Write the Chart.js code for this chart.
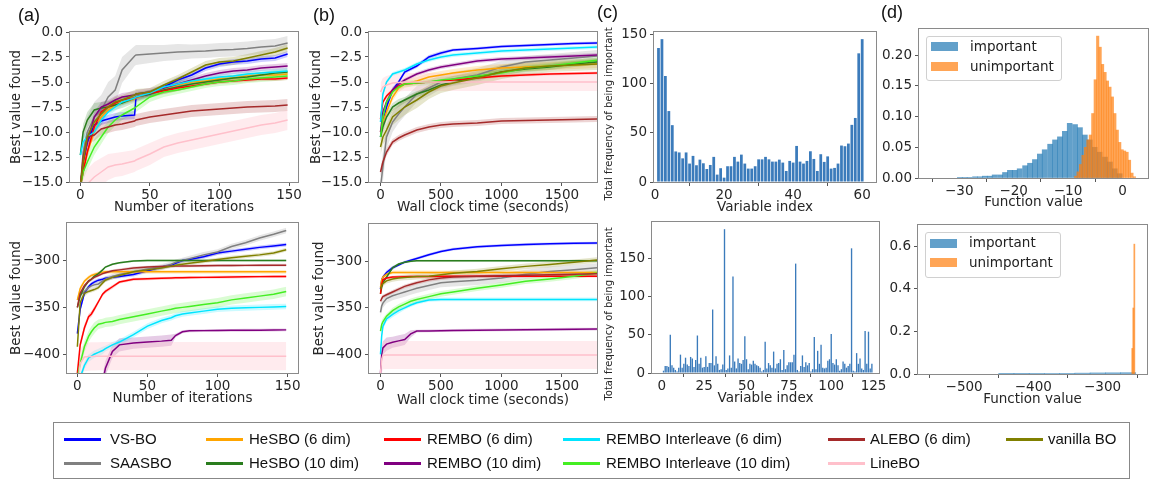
<!DOCTYPE html>
<html><head><meta charset="utf-8">
<script src="https://cdn.jsdelivr.net/npm/chart.js@4.4.1/dist/chart.umd.min.js"></script>
<style>
body{margin:0;width:1151px;height:480px;position:relative;background:#fff;overflow:hidden}
canvas{position:absolute;left:0;top:0}
.plab{position:absolute;font-family:'Liberation Sans',sans-serif;font-size:18px;line-height:20px;color:#111}
.lg{position:absolute;font-family:'Liberation Sans',sans-serif;font-size:15px;line-height:18px;color:#111;white-space:nowrap}
.ll{position:absolute;height:3px}
.hl{position:absolute;font-family:'DejaVu Sans',sans-serif;font-size:13.5px;line-height:16px;color:#222;white-space:nowrap}
.hp{position:absolute;width:27px;height:9px}
.hbox{position:absolute;border:1px solid #d0d0d0;border-radius:3px;background:rgba(255,255,255,0.85)}
.vlab{position:absolute;font-family:'DejaVu Sans',sans-serif;font-size:10px;line-height:12px;color:#262626;white-space:nowrap;transform:translate(-50%,-50%) rotate(-90deg)}
#legend{position:absolute;left:53px;top:422px;width:1075px;height:55px;border:1px solid #888}
</style></head><body>
<canvas id="c1" width="1151" height="480"></canvas>
<canvas id="c2" width="1151" height="480"></canvas>
<canvas id="c3" width="1151" height="480"></canvas>
<canvas id="c4" width="1151" height="480"></canvas>
<canvas id="c5" width="1151" height="480"></canvas>
<canvas id="c6" width="1151" height="480"></canvas>
<canvas id="c7" width="1151" height="480"></canvas>
<canvas id="c8" width="1151" height="480"></canvas>
<div id="legend"></div>
<script>
// ---------------- series names / colours ----------------
const seriesNames = ['VS-BO','SAASBO','HeSBO (6 dim)','HeSBO (10 dim)','REMBO (6 dim)','REMBO (10 dim)','REMBO Interleave (6 dim)','REMBO Interleave (10 dim)','ALEBO (6 dim)','LineBO','vanilla BO'];
const seriesColors = ['#0000ff','#808080','#ffa500','#2a7d1e','#ff0000','#800080','#00e5ff','#44ee22','#a52a2a','#ffc0cb','#808000'];

// ---------------- (a) top: iterations ----------------
const aT_x = [0,2,5,10,15,20,25,30,39,40,50,60,70,80,90,100,110,120,130,140,149];
const aT_vsbo    = [-15.5,-13,-11,-9.3,-8.9,-8.7,-8.5,-8.4,-8.3,-6.5,-6.2,-5.5,-4.8,-4.3,-3.6,-3.2,-3.0,-2.9,-2.7,-2.6,-2.2];
const aT_saasbo  = [-15.5,-12,-10,-8.5,-7.8,-6.5,-5.8,-3.8,-2.4,-2.3,-2.2,-2.1,-2.0,-1.95,-1.9,-1.8,-1.75,-1.65,-1.5,-1.4,-1.1];
const aT_hesbo6  = [-15.5,-13.5,-12,-10,-8.5,-7.8,-7.3,-7.0,-6.7,-6.6,-6.1,-5.6,-5.3,-5.0,-4.9,-4.7,-4.6,-4.4,-4.3,-4.3,-4.2];
const aT_hesbo10 = [-12.3,-10,-8.8,-7.8,-7.6,-7.5,-7.3,-7.1,-6.6,-6.5,-6.2,-5.8,-5.5,-5.2,-5.0,-4.8,-4.6,-4.5,-4.3,-4.1,-4.0];
const aT_rembo6  = [-15.5,-14,-12,-9.5,-8,-7.5,-7.1,-6.8,-6.6,-6.5,-6.1,-5.9,-5.6,-5.4,-5.2,-5.0,-4.9,-4.8,-4.7,-4.7,-4.6];
const aT_rembo10 = [-15.5,-13,-11,-8.5,-7.5,-7.2,-6.8,-6.5,-6.3,-6.2,-6.0,-5.6,-5.2,-4.8,-4.4,-4.1,-3.9,-3.8,-3.6,-3.5,-3.4];
const aT_ri6     = [-12.3,-11,-10.5,-10,-8.8,-8,-7.5,-7,-6.6,-6.5,-6.1,-5.5,-5.2,-4.9,-4.7,-4.5,-4.4,-4.2,-4.1,-4.0,-3.9];
const aT_ri10    = [-15.5,-14,-13,-11.5,-10.5,-9.5,-8.8,-8.3,-7.6,-7.5,-6.5,-6.0,-5.8,-5.5,-5.2,-5.0,-4.9,-4.7,-4.6,-4.5,-4.4];
const aT_alebo   = [-15.5,-12.5,-10.5,-10.3,-9.7,-9.5,-9.3,-9.2,-8.9,-8.8,-8.5,-8.3,-8.1,-7.9,-7.8,-7.7,-7.6,-7.5,-7.45,-7.4,-7.3];
const aT_linebo  = [-16,-15.5,-15.2,-14.5,-14,-13.5,-13.3,-13.2,-12.9,-12.8,-12.2,-11.5,-11.1,-10.8,-10.5,-10.2,-9.9,-9.6,-9.3,-9.1,-8.8];
const aT_vanilla = [-15.5,-13,-10.5,-9,-8.2,-7.5,-7,-6.8,-6.3,-6.2,-6.0,-5.3,-4.7,-4.0,-3.3,-3.0,-2.9,-2.6,-2.3,-2.0,-1.6];
const aT_vsbo_e    = [0.3,0.5,0.5,0.5,0.4,0.4,0.4,0.4,0.4,0.4,0.3,0.3,0.3,0.3,0.3,0.3,0.3,0.3,0.3,0.3,0.3];
const aT_saasbo_e  = [0.5,1.5,1.5,1.5,1.5,1.5,1.4,1.3,1.0,1.0,0.9,0.8,0.8,0.7,0.7,0.7,0.7,0.7,0.7,0.7,0.7];
const aT_hesbo6_e  = [0.3,0.5,0.5,0.4,0.4,0.3,0.3,0.3,0.3,0.3,0.3,0.3,0.3,0.3,0.3,0.3,0.3,0.3,0.3,0.3,0.3];
const aT_hesbo10_e = [0.6,0.8,0.8,0.7,0.6,0.6,0.5,0.5,0.5,0.5,0.4,0.4,0.4,0.4,0.3,0.3,0.3,0.3,0.3,0.3,0.3];
const aT_rembo6_e  = [0.3,0.6,0.6,0.5,0.4,0.4,0.3,0.3,0.3,0.3,0.3,0.3,0.3,0.2,0.2,0.2,0.2,0.2,0.2,0.2,0.2];
const aT_rembo10_e = [0.3,0.6,0.6,0.5,0.5,0.4,0.4,0.4,0.4,0.4,0.4,0.3,0.3,0.3,0.3,0.3,0.3,0.3,0.3,0.3,0.3];
const aT_ri6_e     = [0.5,0.6,0.6,0.5,0.5,0.4,0.4,0.4,0.3,0.3,0.3,0.3,0.3,0.3,0.3,0.3,0.3,0.3,0.3,0.3,0.3];
const aT_ri10_e    = [0.5,0.8,0.8,0.8,0.7,0.6,0.6,0.5,0.5,0.5,0.5,0.5,0.4,0.4,0.4,0.4,0.4,0.4,0.4,0.4,0.4];
const aT_alebo_e   = [0.5,0.8,0.7,0.6,0.6,0.6,0.6,0.6,0.6,0.6,0.6,0.6,0.6,0.6,0.6,0.6,0.6,0.6,0.6,0.6,0.6];
const aT_linebo_e  = [1.5,1.5,1.5,1.5,1.4,1.3,1.2,1.2,1.1,1.1,1.1,1.0,1.0,1.0,1.0,1.0,1.0,1.0,1.0,1.0,1.0];
const aT_vanilla_e = [0.4,0.6,0.6,0.5,0.5,0.5,0.5,0.5,0.5,0.5,0.4,0.4,0.4,0.4,0.4,0.4,0.4,0.4,0.4,0.4,0.4];

// ---------------- (b) top: wall clock ----------------
const bT_x = [0,20,50,100,150,200,300,400,500,600,800,1000,1200,1400,1600,1800];
const bT_vsbo    = [-10.5,-9,-7.5,-5.8,-5.0,-4.0,-3.4,-2.5,-2.1,-1.8,-1.65,-1.45,-1.35,-1.25,-1.15,-1.1];
const bT_saasbo  = [-15.5,-13.5,-10.5,-9,-8.2,-7.5,-6.2,-5.6,-5.0,-4.7,-4.3,-3.5,-3.0,-2.8,-2.6,-2.4];
const bT_hesbo6  = [-10,-9,-8,-6.5,-5.6,-5.2,-4.9,-4.5,-4.3,-4.1,-3.8,-3.6,-3.5,-3.4,-3.3,-3.2];
const bT_hesbo10 = [-10.5,-9.5,-8.5,-7.5,-7.1,-6.8,-6.2,-5.8,-5.3,-5.0,-4.5,-4.0,-3.7,-3.5,-3.2,-3.0];
const bT_rembo6  = [-8.7,-7,-6.4,-5.8,-5.4,-5.2,-5.1,-5.0,-4.9,-4.8,-4.6,-4.4,-4.3,-4.2,-4.15,-4.1];
const bT_rembo10 = [-10,-8,-7,-5.8,-5.2,-4.8,-4.2,-3.8,-3.5,-3.3,-2.9,-2.7,-2.6,-2.5,-2.4,-2.3];
const bT_ri6     = [-9,-6.2,-5,-4.2,-4.0,-3.8,-3.2,-2.8,-2.5,-2.3,-2.1,-1.9,-1.8,-1.7,-1.6,-1.5];
const bT_ri10    = [-10.5,-8.5,-7,-6,-5.5,-5.2,-5.1,-5.0,-4.8,-4.7,-4.4,-4.1,-3.6,-3.4,-3.1,-2.8];
const bT_alebo   = [-14,-13,-12,-11,-10.6,-10.3,-9.8,-9.5,-9.3,-9.2,-9.1,-8.9,-8.85,-8.8,-8.75,-8.7];
const bT_linebo  = [-6,-5.5,-5.3,-5.1,-5.05,-5.0,-5.0,-5.0,-5.0,-5.0,-5.0,-5.0,-5.0,-5.0,-5.0,-5.0];
const bT_vanilla = [-11.5,-10.5,-9.8,-8.5,-8,-7.5,-6.8,-6.0,-5.4,-5.1,-4.6,-4.0,-3.6,-3.4,-3.3,-3.2];
const bT_vsbo_e    = [0.4,0.3,0.3,0.3,0.2,0.2,0.2,0.2,0.2,0.15,0.15,0.15,0.15,0.15,0.15,0.15];
const bT_saasbo_e  = [1.5,1.5,1.2,1.0,0.9,0.9,0.8,0.8,0.7,0.7,0.7,0.6,0.6,0.6,0.6,0.6];
const bT_hesbo6_e  = [0.5,0.5,0.5,0.4,0.4,0.4,0.4,0.4,0.4,0.4,0.4,0.4,0.4,0.4,0.4,0.4];
const bT_hesbo10_e = [0.5,0.5,0.4,0.4,0.4,0.3,0.3,0.3,0.3,0.3,0.3,0.3,0.3,0.3,0.3,0.3];
const bT_rembo6_e  = [0.3,0.2,0.2,0.2,0.2,0.15,0.15,0.15,0.15,0.15,0.15,0.15,0.15,0.15,0.15,0.15];
const bT_rembo10_e = [0.4,0.3,0.3,0.3,0.2,0.2,0.2,0.2,0.2,0.2,0.2,0.2,0.2,0.2,0.2,0.2];
const bT_ri6_e     = [0.3,0.2,0.2,0.2,0.2,0.2,0.2,0.2,0.2,0.2,0.2,0.2,0.2,0.2,0.2,0.2];
const bT_ri10_e    = [0.5,0.4,0.4,0.3,0.3,0.3,0.3,0.3,0.3,0.3,0.3,0.3,0.3,0.3,0.3,0.3];
const bT_alebo_e   = [0.5,0.4,0.4,0.3,0.3,0.3,0.3,0.3,0.3,0.3,0.3,0.3,0.3,0.3,0.3,0.3];
const bT_linebo_e  = [0.9,0.9,0.9,0.9,0.9,0.9,0.9,0.9,0.9,0.9,0.9,0.9,0.9,0.9,0.9,0.9];
const bT_vanilla_e = [0.8,0.8,0.8,0.8,0.8,0.8,0.8,0.7,0.7,0.7,0.7,0.7,0.7,0.6,0.6,0.6];

// ---------------- (a) bottom: iterations ----------------
const aB_x = [0,2,5,8,10,12,15,18,20,25,30,40,50,60,67,70,75,80,90,100,110,120,130,140,149];
const aB_vsbo    = [-378,-352,-335,-328,-325,-323,-321,-320,-319,-318,-317,-315,-311,-307,-305,-303,-300,-299,-296,-292,-290,-288,-286,-284.5,-283];
const aB_saasbo  = [-342,-337,-333,-329,-327,-326,-325,-322,-320,-317,-315,-312,-309,-307,-304,-302,-300,-298,-294,-291,-285,-281,-276,-272,-268];
const aB_hesbo6  = [-342,-330,-322,-318,-316,-315,-313.5,-312.5,-312,-312,-312,-312,-312,-312,-312,-312,-312,-312,-312,-312,-312,-312,-312,-312,-312];
const aB_hesbo10 = [-350,-338,-328,-322,-320,-317,-314,-310,-307,-304,-302.5,-300.5,-300,-300,-300,-300,-300,-300,-300,-300,-300,-300,-300,-300,-300];
const aB_rembo6  = [-420,-390,-372,-360,-357,-352,-344,-336,-333,-328,-323,-320,-319.5,-319,-318.7,-318.5,-318.3,-318.2,-318,-317.8,-317.6,-317.4,-317.2,-317.1,-317];
const aB_rembo10 = [null,null,null,null,null,null,null,-430,-415,-397,-390,-388,-387,-386,-385,-380,-376,-375,-374.8,-374.6,-374.5,-374.4,-374.3,-374.1,-374];
const aB_ri6     = [-440,-425,-412,-404,-402,-400,-398,-396,-394,-390,-387,-379,-370,-364,-361,-359,-357,-356,-354,-352,-351,-350.5,-350,-349.5,-349];
const aB_ri10    = [-425,-410,-392,-381,-376,-372,-368,-367,-366,-365,-363,-360,-357,-354,-352,-351,-350,-349,-347,-345,-342,-340,-338,-336,-333];
const aB_alebo   = [-350,-335,-327,-322,-320,-318,-316,-314,-313,-311,-310,-308,-307,-306.5,-306.2,-306,-305.9,-305.8,-305.6,-305.4,-305.3,-305.2,-305.1,-305,-305];
const aB_linebo  = [-440,-410,-403,-402.5,-402.3,-402.2,-402.1,-402,-402,-402,-402,-402,-402,-402,-402,-402,-402,-402,-402,-402,-402,-402,-402,-402,-402];
const aB_vanilla = [-392,-345,-335,-333,-332,-331,-329,-324,-321,-318,-316,-312,-310,-308,-306,-305,-304,-303,-301,-299,-297,-295.5,-294,-292,-288.5];
const aB_vsbo_e    = [3,3,3,2,2,2,2,2,2,2,2,2,2,2,2,2,2,2,2,2,2,2,2,2,2];
const aB_saasbo_e  = [4,4,4,3,3,3,3,3,3,3,3,3,3,3,3,3,3,3,3,3,3,3,3,3,3];
const aB_hesbo6_e  = [3,3,2,2,2,2,2,2,2,2,2,2,2,2,2,2,2,2,2,2,2,2,2,2,2];
const aB_hesbo10_e = [2,2,2,1.5,1.5,1.5,1.5,1,1,1,1,1,1,1,1,1,1,1,1,1,1,1,1,1,1];
const aB_rembo6_e  = [4,4,4,3,3,3,2,2,2,2,1.5,1.5,1.5,1.5,1.5,1.5,1.5,1.5,1.5,1.5,1.5,1.5,1.5,1.5,1.5];
const aB_rembo10_e = [null,null,null,null,null,null,null,8,8,7,7,6,6,6,6,2,1.5,1.5,1.5,1.5,1.5,1.5,1.5,1.5,1.5];
const aB_ri6_e     = [4,4,4,4,4,4,4,4,3,3,3,3,3,3,3,3,3,3,3,3,3,3,3,3,3];
const aB_ri10_e    = [6,6,6,6,6,6,5,5,5,5,5,5,5,5,5,5,5,5,5,5,5,5,5,5,5];
const aB_alebo_e   = [3,3,2,2,2,2,1.5,1.5,1.5,1.5,1.5,1.5,1.5,1.5,1.5,1.5,1.5,1.5,1.5,1.5,1.5,1.5,1.5,1.5,1.5];
const aB_linebo_e  = [15,15,15,15,15,15,15,15,15,15,15,15,15,15,15,15,15,15,15,15,15,15,15,15,15];
const aB_vanilla_e = [4,3,3,2,2,2,2,2,2,2,2,2,2,2,2,2,2,2,2,2,2,2,2,2,2];

// ---------------- (b) bottom: wall clock ----------------
const bB_x = [0,10,20,50,100,150,200,250,300,400,500,600,800,1000,1200,1400,1600,1800];
const bB_vsbo    = [-330,-320,-317,-312,-307,-304,-301,-299,-297,-293,-289.5,-287,-284.5,-283,-282,-281.3,-280.8,-280.5];
const bB_saasbo  = [-355,-348,-345,-340,-337,-335,-333,-331,-329,-326,-323,-322,-320.5,-318,-314,-311,-309,-307];
const bB_hesbo6  = [-328,-320,-317,-314,-312,-312,-312,-312,-312,-312,-312,-312,-312,-312,-312,-312,-312,-312];
const bB_hesbo10 = [-335,-328,-323,-317,-307,-303,-301,-300,-299.5,-299.5,-299.5,-299.5,-299.5,-299.5,-299.5,-299.5,-299.5,-299.5];
const bB_rembo6  = [-335,-325,-320,-318,-317,-316.8,-316.6,-316.5,-316.4,-316.3,-316.2,-316.1,-316,-316,-316,-316,-316,-316];
const bB_rembo10 = [-420,-400,-393,-389,-387,-385.5,-384,-378,-375,-374.8,-374.5,-374.3,-374,-373.8,-373.5,-373.3,-373,-372.8];
const bB_ri6     = [-400,-380,-370,-362,-357,-353,-350,-347,-344.5,-341.5,-341,-341,-341,-341,-341,-341,-341,-341];
const bB_ri10    = [-375,-368,-365,-359,-353,-349,-346,-343,-341,-338,-335,-333,-329,-325.5,-321.5,-319,-316,-312.5];
const bB_alebo   = [-343,-340,-338,-336,-333,-330,-327,-325,-323,-320,-318,-317,-316,-315.5,-315,-314.5,-314,-313.5];
const bB_linebo  = [-420,-405,-401,-400.7,-400.7,-400.7,-400.7,-400.7,-400.7,-400.7,-400.7,-400.7,-400.7,-400.7,-400.7,-400.7,-400.7,-400.7];
const bB_vanilla = [-330,-326,-324,-321,-319,-318,-317.5,-317,-316.5,-316,-314.5,-313,-311,-308,-305.5,-303.5,-301,-298.5];
const bB_vsbo_e    = [3,2,2,2,2,1.5,1.5,1.5,1.5,1.5,1.5,1.5,1.5,1.5,1.5,1.5,1.5,1.5];
const bB_saasbo_e  = [6,6,5,5,5,5,5,5,5,5,5,5,5,5,5,5,5,5];
const bB_hesbo6_e  = [3,2,2,2,2,2,2,2,2,2,2,2,2,2,2,2,2,2];
const bB_hesbo10_e = [2,2,2,1.5,1.5,1,1,1,1,1,1,1,1,1,1,1,1,1];
const bB_rembo6_e  = [3,2,2,1.5,1.5,1.5,1.5,1.5,1.5,1.5,1.5,1.5,1.5,1.5,1.5,1.5,1.5,1.5];
const bB_rembo10_e = [8,8,7,7,6,6,6,4,1.5,1.5,1.5,1.5,1.5,1.5,1.5,1.5,1.5,1.5];
const bB_ri6_e     = [4,4,3,3,3,3,2,2,2,2,2,2,2,2,2,2,2,2];
const bB_ri10_e    = [4,4,4,3,3,3,3,3,3,3,3,3,3,3,3,3,3,3];
const bB_alebo_e   = [3,3,2,2,2,2,2,2,2,2,2,2,2,2,2,2,2,2];
const bB_linebo_e  = [15,15,15,15,15,15,15,15,15,15,15,15,15,15,15,15,15,15];
const bB_vanilla_e = [3,3,3,3,3,3,3,3,3,3,3,3,3,3,3,3,3,3];

// ---------------- (c) variable importance frequency ----------------
const cT_freq = [136,145,107.6,72,57.7,31,30,24,30,18.7,26.5,17,22.7,19,13.2,17.3,25.5,7.5,14,4.4,16,16,25.5,20.7,27.8,18.7,13.6,13.6,16,23,23,25.5,23,20.7,20.7,22.7,19.7,11.2,21.4,19.7,36.6,20.7,18.7,21.4,31.2,23.4,11.2,28.2,20.4,26,13.6,14.3,18.7,37,36.3,39,58,65,130.6,145];
const cB_freq = [3,9,9,8,50,10,7,4,2,7,24,7,12,20,11,9,21,19,8,17,49,12,20,7,8,22,8,13,13,83,10,22,12,4,5,11,188,4,6,23,7,126,15,6,19,13,12,17,48,18,5,12,11,16,12,10,9,7,2,4,41,6,13,10,7,28,6,12,13,18,4,30,5,10,14,14,14,24,143,4,2,9,23,8,14,10,13,2,5,47,5,29,12,37,7,6,7,16,18,51,13,11,18,10,3,5,15,12,7,9,12,163,3,2,26,12,19,6,4,55,12,54,6,12];

// ---------------- (d) function value histograms ----------------
const dT_impX = [-29.9,-29.0,-28.1,-27.1,-26.2,-25.3,-24.4,-23.5,-22.5,-21.6,-20.7,-19.8,-18.9,-17.9,-17.0,-16.1,-15.2,-14.3,-13.3,-12.4,-11.5,-10.6,-9.7,-8.7,-7.8,-6.9,-6.0,-5.1,-4.2,-3.2,-2.3,-1.4,-0.5];
const dT_impY = [0.001,0.001,0.001,0.002,0.002,0.003,0.003,0.005,0.005,0.009,0.0125,0.0125,0.015,0.02,0.024,0.03,0.039,0.046,0.055,0.062,0.067,0.076,0.089,0.087,0.082,0.07,0.062,0.05,0.042,0.034,0.026,0.015,0.007];
const dT_unX = [-8.6,-8.15,-7.7,-7.25,-6.8,-6.35,-5.9,-5.45,-5.0,-4.55,-4.1,-3.65,-3.2,-2.75,-2.3,-1.85,-1.4,-0.95,-0.5,-0.05,0.4,0.85,1.3,1.75,2.2];
const dT_unY = [0.003,0.01,0.022,0.037,0.05,0.062,0.07,0.105,0.16,0.231,0.213,0.185,0.172,0.158,0.148,0.132,0.105,0.078,0.058,0.046,0.044,0.042,0.029,0.008,0.002];
const dB_impX = [-439,-417,-395,-373,-351,-329,-307,-285,-263];
const dB_impY = [0.0012,0.0015,0.0018,0.002,0.003,0.004,0.005,0.0055,0.006];
const dB_unX = [-257,-255.5,-254];
const dB_unY = [0.12,0.31,0.61];

// ---------------- tick values / labels ----------------
const yTicksTop = [-15,-12.5,-10,-7.5,-5,-2.5,0];
const yLabelsTop = ['\u221215.0','\u221212.5','\u221210.0','\u22127.5','\u22125.0','\u22122.5','0.0'];
const yTicksBot = [-400,-350,-300];
const yLabelsBot = ['\u2212400','\u2212350','\u2212300'];
const xTicksIter = [0,50,100,150];
const xLabelsIter = ['0','50','100','150'];
const xTicksTime = [0,500,1000,1500];
const xLabelsTime = ['0','500','1000','1500'];
const cT_xTicks = [0,20,40,60], cT_xLabels = ['0','20','40','60'];
const cB_xTicks = [0,25,50,75,100,125], cB_xLabels = ['0','25','50','75','100','125'];
const cYTicks = [0,50,100,150], cYLabels = ['0','50','100','150'];
const dT_xTicks = [-30,-20,-10,0], dT_xLabels = ['\u221230','\u221220','\u221210','0'];
const dT_yTicks = [0,0.05,0.1,0.15,0.2], dT_yLabels = ['0.00','0.05','0.10','0.15','0.20'];
const dB_xTicks = [-500,-400,-300], dB_xLabels = ['\u2212500','\u2212400','\u2212300'];
const dB_yTicks = [0,0.2,0.4,0.6], dB_yLabels = ['0.0','0.2','0.4','0.6'];

// ---------------- helpers ----------------
const W = 1151, H = 480, FONT = 'DejaVu Sans', FS = 13.5, LH = 1.2;
function rgba(hex, a){const n=parseInt(hex.slice(1),16);return `rgba(${n>>16&255},${n>>8&255},${n&255},${a})`;}
const framePlugin = {id:'frame', afterDatasetsDraw(chart){
  const {ctx, chartArea:a} = chart; ctx.save(); ctx.strokeStyle='#8a8a8a'; ctx.lineWidth=1;
  const l=Math.round(a.left)-0.5, t=Math.round(a.top)-0.5, r=Math.round(a.right)+0.5, b=Math.round(a.bottom)+0.5;
  ctx.strokeRect(l,t,r-l,b-t); ctx.restore();}};

function axis(min, max, ticks, labels, titleText, titleSize, fit, horiz){
  return {type:'linear', min, max, offset:false,
    afterBuildTicks: s => { s.ticks = ticks.map(v => ({value:v})); },
    afterFit: s => { if (horiz) s.height = fit; else s.width = fit; },
    ticks:{callback:(v,i)=>labels[i], font:{family:FONT,size:FS}, color:'#262626', padding: horiz?1:3, autoSkip:false, maxRotation:0, minRotation:0},
    grid:{display:true, drawOnChartArea:false, drawTicks:true, tickLength:4, tickColor:'#555'},
    border:{display:false},
    title:{display:!!titleText, text:titleText||'', font:{family:FONT,size:titleSize||FS,lineHeight:LH}, color:'#262626', padding:0}
  };
}
function baseOptions(p){
  const ylh = (p.yTitleSize||FS)*LH, xlh = FS*LH;
  const w = p.ylabX!=null ? p.rect[0] - (p.ylabX - ylh/2) : 45;
  const h = p.xlabY + xlh/2 - p.rect[3];
  return {
    responsive:false, animation:false, devicePixelRatio:1, events:[],
    layout:{padding:{left:p.rect[0]-w, top:p.rect[1], right:W-p.rect[2], bottom:H-p.rect[3]-h}},
    plugins:{legend:{display:false}, tooltip:{enabled:false}},
    scales:{
      x: axis(p.xr[0], p.xr[1], p.xTicks, p.xLabels, p.xTitle, FS, h, true),
      y: axis(p.yr[0], p.yr[1], p.yTicks, p.yLabels, p.yTitle, p.yTitleSize, w, false)
    }
  };
}
function lineChart(id, p, grid, vals, errs){
  const ds = [];
  vals.forEach((v,i)=>{
    ds.push({type:'line', data:grid.map((x,k)=>({x, y:v[k]})), borderColor:seriesColors[i], borderWidth:1.5,
      pointRadius:0, fill:false, tension:0, clip:0, order:100-i, spanGaps:false});
  });
  vals.forEach((v,i)=>{
    const e = errs[i];
    ds.push({type:'line', data:grid.map((x,k)=>({x, y: v[k]==null?null:v[k]-e[k]})), borderWidth:0, borderColor:'transparent',
      pointRadius:0, fill:false, clip:0, order:300-i});
    ds.push({type:'line', data:grid.map((x,k)=>({x, y: v[k]==null?null:v[k]+e[k]})), borderWidth:0, borderColor:'transparent',
      pointRadius:0, fill:'-1', backgroundColor:rgba(seriesColors[i], i===9?0.32:0.2), clip:0, order:300-i});
  });
  new Chart(document.getElementById(id), {type:'line', data:{datasets:ds}, options:baseOptions(p), plugins:[framePlugin]});
}
function barChart(id, p, freq){
  const opts = baseOptions(p);
  new Chart(document.getElementById(id), {type:'bar',
    data:{datasets:[{data:freq.map((f,i)=>({x:i+1, y:f})), backgroundColor:'#3b7bbb', borderWidth:0,
      barPercentage:0.8, categoryPercentage:1}]},
    options:opts, plugins:[framePlugin]});
}
function histChart(id, p, ix, iy, ux, uy){
  const opts = baseOptions(p);
  opts.scales.x2 = {type:'linear', min:p.xr[0], max:p.xr[1], display:false, offset:false};
  new Chart(document.getElementById(id), {type:'bar',
    data:{datasets:[
      {data:ux.map((x,i)=>({x, y:uy[i]})), xAxisID:'x2', backgroundColor:'rgba(255,127,14,0.7)', borderWidth:0, barPercentage:1, categoryPercentage:1, grouped:false, order:0},
      {data:ix.map((x,i)=>({x, y:iy[i]})), xAxisID:'x', backgroundColor:'rgba(31,119,180,0.7)', borderWidth:0, barPercentage:1, categoryPercentage:1, grouped:false, order:1}
    ]},
    options:opts, plugins:[framePlugin]});
}

// ---------------- panels ----------------
lineChart('c1', {rect:[70,32,298,182], ylabX:16.7, xlabY:207, xr:[-7.45,156.45], yr:[-15,0],
  xTicks:xTicksIter, xLabels:xLabelsIter, yTicks:yTicksTop, yLabels:yLabelsTop,
  xTitle:'Number of iterations', yTitle:'Best value found'}, aT_x,
  [aT_vsbo,aT_saasbo,aT_hesbo6,aT_hesbo10,aT_rembo6,aT_rembo10,aT_ri6,aT_ri10,aT_alebo,aT_linebo,aT_vanilla],
  [aT_vsbo_e,aT_saasbo_e,aT_hesbo6_e,aT_hesbo10_e,aT_rembo6_e,aT_rembo10_e,aT_ri6_e,aT_ri10_e,aT_alebo_e,aT_linebo_e,aT_vanilla_e]);

lineChart('c2', {rect:[369,32,597,182], ylabX:316.7, xlabY:207.3, xr:[-95,1790], yr:[-15,0],
  xTicks:xTicksTime, xLabels:xLabelsTime, yTicks:yTicksTop, yLabels:yLabelsTop,
  xTitle:'Wall clock time (seconds)', yTitle:'Best value found'}, bT_x,
  [bT_vsbo,bT_saasbo,bT_hesbo6,bT_hesbo10,bT_rembo6,bT_rembo10,bT_ri6,bT_ri10,bT_alebo,bT_linebo,bT_vanilla],
  [bT_vsbo_e,bT_saasbo_e,bT_hesbo6_e,bT_hesbo10_e,bT_rembo6_e,bT_rembo10_e,bT_ri6_e,bT_ri10_e,bT_alebo_e,bT_linebo_e,bT_vanilla_e]);

barChart('c3', {rect:[654,32,876,182], ylabX:609, yTitleSize:10, xlabY:207.3, xr:[-0.3,64.0], yr:[0,152.25],
  xTicks:cT_xTicks, xLabels:cT_xLabels, yTicks:cYTicks, yLabels:cYLabels,
  xTitle:'Variable index', yTitle:''}, cT_freq);

histChart('c4', {rect:[919,29,1148,178], ylabX:null, xlabY:202.3, xr:[-37.4,4.7], yr:[0,0.2426],
  xTicks:dT_xTicks, xLabels:dT_xLabels, yTicks:dT_yTicks, yLabels:dT_yLabels,
  xTitle:'Function value', yTitle:''}, dT_impX, dT_impY, dT_unX, dT_unY);

lineChart('c5', {rect:[67,223,298,373], ylabX:16.7, xlabY:398.3, xr:[-7.4,157.4], yr:[-420,-260],
  xTicks:xTicksIter, xLabels:xLabelsIter, yTicks:yTicksBot, yLabels:yLabelsBot,
  xTitle:'Number of iterations', yTitle:'Best value found'}, aB_x,
  [aB_vsbo,aB_saasbo,aB_hesbo6,aB_hesbo10,aB_rembo6,aB_rembo10,aB_ri6,aB_ri10,aB_alebo,aB_linebo,aB_vanilla],
  [aB_vsbo_e,aB_saasbo_e,aB_hesbo6_e,aB_hesbo10_e,aB_rembo6_e,aB_rembo10_e,aB_ri6_e,aB_ri10_e,aB_alebo_e,aB_linebo_e,aB_vanilla_e]);

lineChart('c6', {rect:[369,224,597,373], ylabX:319.3, xlabY:400, xr:[-95,1790], yr:[-420,-260],
  xTicks:xTicksTime, xLabels:xLabelsTime, yTicks:yTicksBot, yLabels:yLabelsBot,
  xTitle:'Wall clock time (seconds)', yTitle:'Best value found'}, bB_x,
  [bB_vsbo,bB_saasbo,bB_hesbo6,bB_hesbo10,bB_rembo6,bB_rembo10,bB_ri6,bB_ri10,bB_alebo,bB_linebo,bB_vanilla],
  [bB_vsbo_e,bB_saasbo_e,bB_hesbo6_e,bB_hesbo10_e,bB_rembo6_e,bB_rembo10_e,bB_ri6_e,bB_ri10_e,bB_alebo_e,bB_linebo_e,bB_vanilla_e]);

barChart('c7', {rect:[652,222,879,373], ylabX:609, yTitleSize:10, xlabY:398.3, xr:[-5.8,128.2], yr:[0,197.4],
  xTicks:cB_xTicks, xLabels:cB_xLabels, yTicks:cYTicks, yLabels:cYLabels,
  xTitle:'Variable index', yTitle:''}, cB_freq);

histChart('c8', {rect:[918,225,1147,374], ylabX:null, xlabY:399.3, xr:[-566.7,-235.7], yr:[0,0.70],
  xTicks:dB_xTicks, xLabels:dB_xLabels, yTicks:dB_yTicks, yLabels:dB_yLabels,
  xTitle:'Function value', yTitle:''}, dB_impX, dB_impY, dB_unX, dB_unY);

// ---------------- text overlays ----------------
function addDiv(cls, css, text){const d=document.createElement('div'); d.className=cls; Object.assign(d.style, css); if(text!=null) d.textContent=text; document.body.appendChild(d); return d;}
[['(a)',18,5],['(b)',313,5],['(c)',597,2],['(d)',881,2]].forEach(([t,x,y])=>addDiv('plab',{left:x+'px',top:y+'px'},t));

// rotated y-axis titles of panel (c)
addDiv('vlab',{left:'609px',top:'114px'},'Total frequency of being important');
addDiv('vlab',{left:'609px',top:'314px'},'Total frequency of being important');

// bottom legend (column-major, 2 rows)
const lineX = [64,206,384,563,828,1006], textX = [110,249,427,606,870,1048], rowY = [439,463];
seriesNames.forEach((name,k)=>{
  const col = Math.floor(k/2), row = k%2;
  addDiv('ll',{left:lineX[col]+'px', top:(rowY[row]-1.5)+'px', width:'37px', background:seriesColors[k]});
  addDiv('lg',{left:textX[col]+'px', top:(rowY[row]-9)+'px'}, name);
});

// histogram legends
function histLegend(box, px, tx, rows){
  addDiv('hbox',{left:box[0]+'px',top:box[1]+'px',width:(box[2]-box[0])+'px',height:(box[3]-box[1])+'px'});
  addDiv('hp',{left:px+'px',top:(rows[0]-4.5)+'px',background:'rgba(31,119,180,0.7)'});
  addDiv('hp',{left:px+'px',top:(rows[1]-4.5)+'px',background:'rgba(255,127,14,0.7)'});
  addDiv('hl',{left:tx+'px',top:(rows[0]-9)+'px'},'important');
  addDiv('hl',{left:tx+'px',top:(rows[1]-9)+'px'},'unimportant');
}
histLegend([926,36,1060,79], 931, 970, [46.7,66.7]);
histLegend([925,232,1059,276], 930, 969, [243.3,262.7]);
</script>
</body></html>
